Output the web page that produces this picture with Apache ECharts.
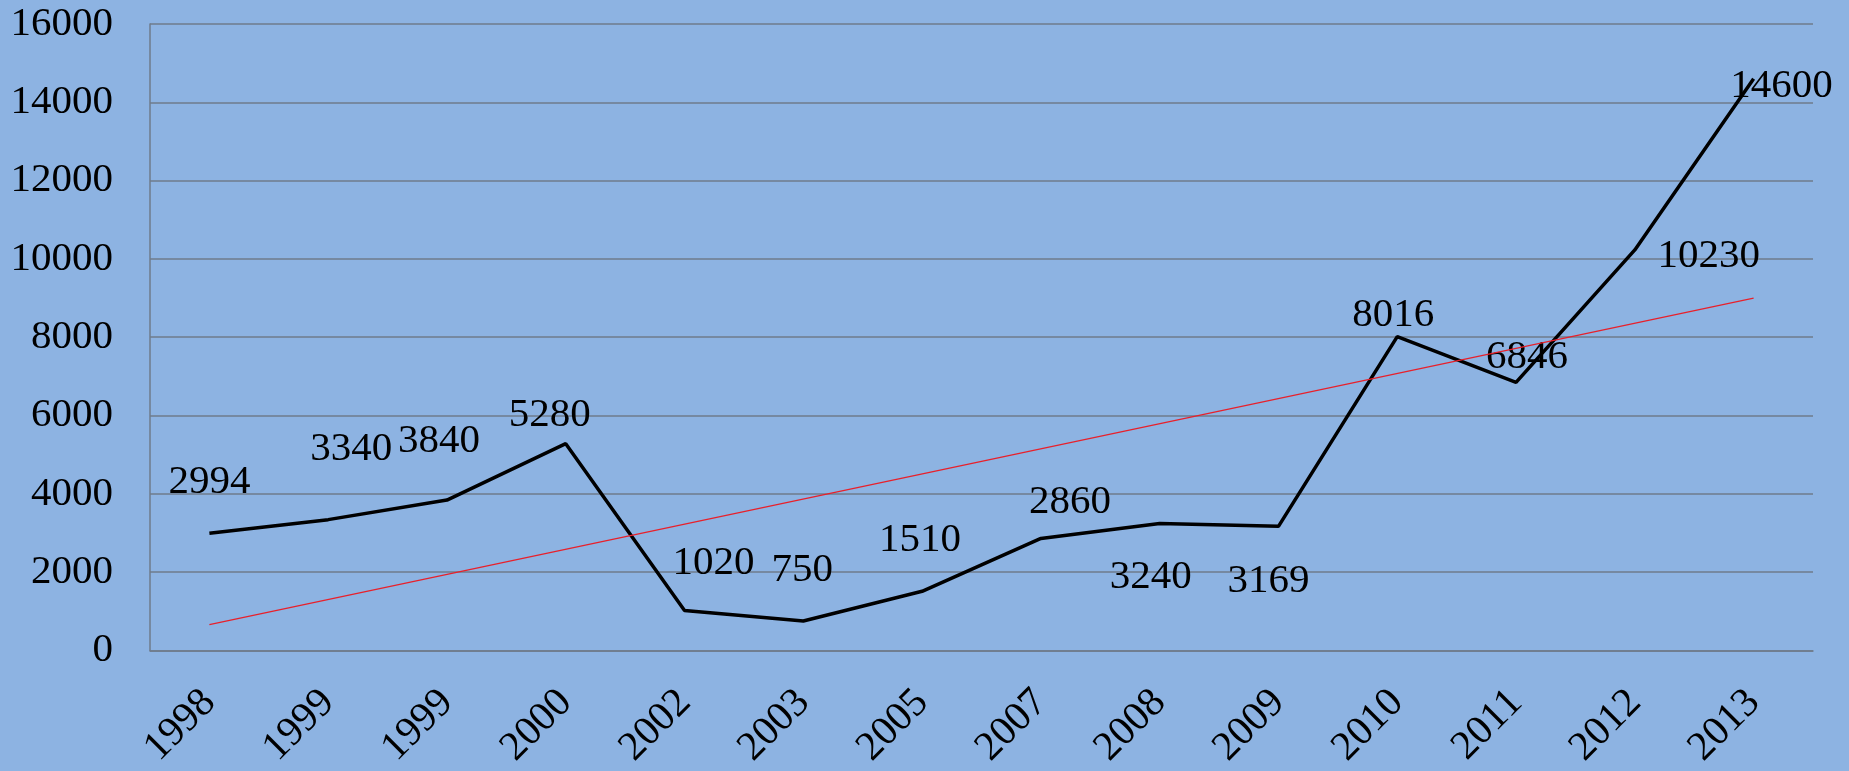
<!DOCTYPE html>
<html>
<head>
<meta charset="utf-8">
<script src="https://cdn.jsdelivr.net/npm/echarts@6/dist/echarts.min.js"></script>
<style>
html,body{margin:0;padding:0;background:#8DB3E2;}
#c{width:1849px;height:771px;}
</style>
</head>
<body>
<div id="c"></div>
<script>
// Data
var categories = ['1998','1999','1999','2000','2002','2003','2005','2007','2008','2009','2010','2011','2012','2013'];
var values = [2994, 3340, 3840, 5280, 1020, 750, 1510, 2860, 3240, 3169, 8016, 6846, 10230, 14600];
var trendStart = 657;   // trend line value at first category
var trendEnd = 9000;    // trend line value at last category
var yTicks = [0, 2000, 4000, 6000, 8000, 10000, 12000, 14000, 16000];

// Label placement (styling only): offset of each value label from its point, px
var labelOffsets = [[0,-51],[23,-70],[-8,-59],[-16,-28],[29,-47],[-1,-51],[-2,-51],[29,-36],[-9,54],[-10,55],[-4,-21],[11,-25],[74,6],[28,7]];

var FONT = '"Liberation Serif", "Times New Roman", serif';

var trendData = categories.map(function (c, i) {
  if (i === 0) return trendStart;
  if (i === categories.length - 1) return trendEnd;
  return null;
});

var chart = echarts.init(document.getElementById('c'), null, { renderer: 'canvas' });
chart.setOption({
  backgroundColor: '#8DB3E2',
  animation: false,
  grid: { left: 150, right: 36, top: 24, bottom: 114, containLabel: false },
  xAxis: {
    type: 'category',
    data: categories,
    boundaryGap: true,
    axisLine: { show: true, lineStyle: { color: '#6f7b8b', width: 1.5 } },
    axisTick: { show: false },
    axisLabel: {
      rotate: 45,
      margin: 46,
      color: '#000',
      fontFamily: FONT,
      fontSize: 41,
      interval: 0
    }
  },
  yAxis: {
    type: 'value',
    min: yTicks[0],
    max: yTicks[yTicks.length - 1],
    interval: yTicks[1] - yTicks[0],
    axisLine: { show: true, lineStyle: { color: '#6f7b8b', width: 1.5 } },
    axisTick: { show: false },
    splitLine: { show: true, lineStyle: { color: '#6f7b8b', width: 1.5 } },
    axisLabel: {
      margin: 37,
      color: '#000',
      fontFamily: FONT,
      fontSize: 41,
      formatter: function (v) { return String(v); }
    }
  },
  series: [
    {
      type: 'line',
      data: values,
      symbol: 'circle',
      symbolSize: 2,
      showSymbol: true,
      showAllSymbol: true,
      itemStyle: { color: 'rgba(0,0,0,0)', borderWidth: 0 },
      lineStyle: { color: '#000', width: 3.5 },
      label: {
        show: true,
        position: 'inside',
        color: '#000',
        fontFamily: FONT,
        fontSize: 41
      },
      labelLayout: function (p) {
        var o = labelOffsets[p.dataIndex] || [0, 0];
        return { dx: o[0], dy: o[1], hideOverlap: false };
      },
      z: 3
    },
    {
      type: 'line',
      data: trendData,
      connectNulls: true,
      symbol: 'none',
      lineStyle: { color: '#e8202a', width: 1.2 },
      z: 4,
      silent: true
    }
  ]
});
</script>
</body>
</html>
